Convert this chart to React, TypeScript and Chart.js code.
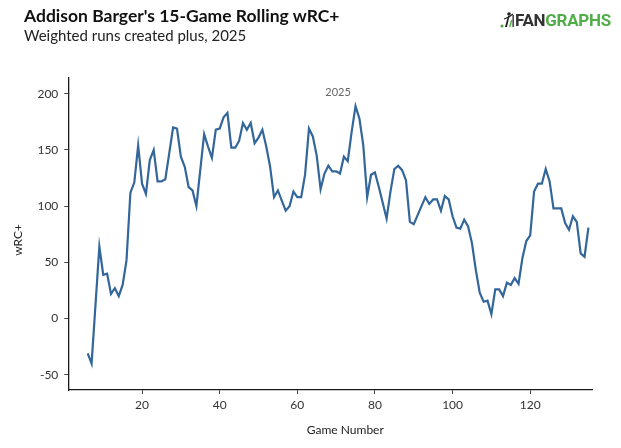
import React, { useEffect, useRef } from "react";
import { Chart, registerables } from "chart.js";

Chart.register(...registerables);

const games: number[] = [];
for (let g = 6; g <= 135; g++) games.push(g);

const wrcPlus: number[] = [
  -31, -40, 12, 64, 39, 40, 22, 27, 20, 30,
  52, 112, 121, 154, 120, 111, 141, 150, 122, 122,
  124, 147, 170, 169, 144, 135, 117, 114, 100, 132,
  164, 153, 143, 168, 169, 179, 183, 152, 152, 158,
  174, 168, 174, 156, 161, 168, 153, 135, 108, 114,
  105, 96, 100, 113, 108, 108, 128, 169, 162, 145,
  115, 129, 136, 131, 131, 129, 144, 140, 166, 189,
  178, 154, 108, 128, 130, 117, 103, 89, 113, 133,
  136, 132, 123, 86, 84, 92, 100, 108, 102, 106,
  106, 96, 109, 106, 91, 81, 80, 88, 82, 67,
  43, 23, 15, 16, 4, 26, 26, 20, 32, 30,
  36, 31, 54, 69, 74, 113, 120, 120, 133, 122,
  98, 98, 98, 85, 79, 91, 86, 58, 55, 81,
];

const xTicks = [20, 40, 60, 80, 100, 120];
const yTicks = [-50, 0, 50, 100, 150, 200];
const seasonLabel = "2025";

const FONT = "Lato, 'Noto Sans', sans-serif";

export default function App() {
  const ref = useRef<HTMLCanvasElement | null>(null);

  useEffect(() => {
    if (!ref.current) return;
    const titlesPlugin = {
      id: "customText",
      afterDraw(chart: any) {
        const { ctx, chartArea, scales } = chart;
        ctx.save();
        ctx.fillStyle = "#666";
        ctx.font = `11px ${FONT}`;
        ctx.textAlign = "center";
        ctx.textBaseline = "middle";
        ctx.fillText(seasonLabel, scales.x.getPixelForValue(70.5), scales.y.getPixelForValue(201));
        ctx.fillStyle = "#222";
        ctx.font = `12px ${FONT}`;
        ctx.fillText("Game Number", (chartArea.left + chartArea.right) / 2 + 15, 430);
        ctx.translate(18, (chartArea.top + chartArea.bottom) / 2 + 6);
        ctx.rotate(-Math.PI / 2);
        ctx.fillText("wRC+", 0, 0);
        ctx.restore();
      },
    };

    const chart = new Chart(ref.current, {
      type: "line",
      data: {
        datasets: [
          {
            data: games.map((g, i) => ({ x: g, y: wrcPlus[i] })),
            borderColor: "#33669a",
            borderWidth: 2.2,
            pointRadius: 0,
            tension: 0,
            fill: false,
          },
        ],
      },
      options: {
        animation: false,
        responsive: false,
        devicePixelRatio: 1,
        layout: { padding: { top: 78, right: 28.7, left: 0, bottom: 0 } },
        plugins: { legend: { display: false }, tooltip: { enabled: false } },
        scales: {
          x: {
            type: "linear",
            min: 1,
            max: 136,
            afterFit: (s: any) => {
              s.height = 58;
            },
            afterBuildTicks: (s: any) => {
              s.ticks = xTicks.map((v) => ({ value: v }));
            },
            border: { display: true, color: "#1a1a1a", width: 1.3 },
            grid: { display: true, drawOnChartArea: false, drawTicks: true, tickLength: 4, color: "#444" },
            ticks: { color: "#333", font: { family: FONT, size: 12 }, padding: 4, maxRotation: 0 },
          },
          y: {
            type: "linear",
            min: -63.5,
            max: 214,
            afterFit: (s: any) => {
              s.width = 68.3;
            },
            afterBuildTicks: (s: any) => {
              s.ticks = yTicks.map((v) => ({ value: v }));
            },
            border: { display: true, color: "#1a1a1a", width: 1.3 },
            grid: { display: true, drawOnChartArea: false, drawTicks: true, tickLength: 4, color: "#444" },
            ticks: { color: "#333", font: { family: FONT, size: 12 }, padding: 6 },
          },
        },
      },
      plugins: [titlesPlugin],
    });
    return () => chart.destroy();
  }, []);

  return (
    <div style={{ position: "absolute", left: 0, top: 0, width: 621, height: 448, background: "#fff", overflow: "hidden" }}>
      <canvas ref={ref} width={621} height={448} style={{ position: "absolute", left: 0, top: 0, width: 621, height: 448 }} />
      <div style={{ position: "absolute", left: 24, top: 7, fontFamily: FONT, fontWeight: 700, fontSize: 17.5, lineHeight: "18px", color: "#111", whiteSpace: "nowrap" }}>
        Addison Barger's 15-Game Rolling wRC+
      </div>
      <div style={{ position: "absolute", left: 24, top: 28, fontFamily: FONT, fontWeight: 400, fontSize: 15, lineHeight: "15px", color: "#222", whiteSpace: "nowrap" }}>
        Weighted runs created plus, 2025
      </div>
      <div style={{ position: "absolute", left: 500, top: 11, display: "flex", alignItems: "center", whiteSpace: "nowrap" }}>
        <svg width="14" height="18" viewBox="0 0 14 18" style={{ marginRight: 1 }}>
          <circle cx="2" cy="15" r="1.6" fill="#50ae48" />
          <path d="M5 16 L8 5 L9.5 5 L7 16 Z" fill="#222" />
          <path d="M9 16 L11 9 L12.5 9 L10.5 16 Z" fill="#50ae48" />
          <circle cx="9" cy="3" r="1.8" fill="#222" />
          <path d="M4 8 L9 6 L13 3" stroke="#222" strokeWidth="1.2" fill="none" />
          <rect x="12.5" y="4" width="1.3" height="12" fill="#222" />
        </svg>
        <span style={{ fontFamily: "Roboto, 'Liberation Sans', sans-serif", fontWeight: 700, fontSize: 17, letterSpacing: -0.3, lineHeight: "18px" }}>
          <span style={{ color: "#333" }}>FAN</span>
          <span style={{ color: "#50ae48" }}>GRAPHS</span>
        </span>
      </div>
    </div>
  );
}
